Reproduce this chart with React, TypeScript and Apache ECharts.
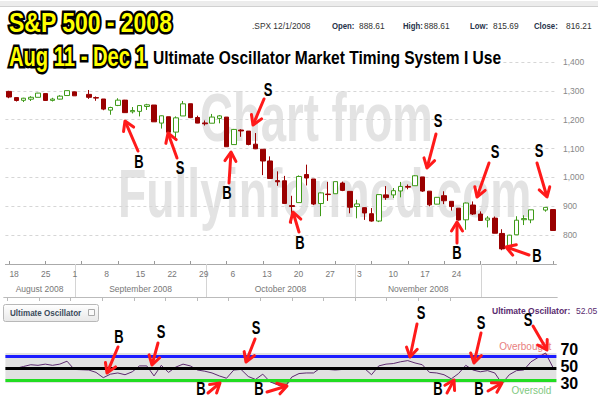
import React, { useEffect, useRef } from "react";
import * as echarts from "echarts";

// ---------------- data ----------------
const dates = [
  "2008-08-18", "2008-08-19", "2008-08-20", "2008-08-21", "2008-08-22",
  "2008-08-25", "2008-08-26", "2008-08-27", "2008-08-28", "2008-08-29",
  "2008-09-01", "2008-09-02", "2008-09-03", "2008-09-04", "2008-09-05",
  "2008-09-08", "2008-09-09", "2008-09-10", "2008-09-11", "2008-09-12",
  "2008-09-15", "2008-09-16", "2008-09-17", "2008-09-18", "2008-09-19",
  "2008-09-22", "2008-09-23", "2008-09-24", "2008-09-25", "2008-09-26",
  "2008-09-29", "2008-09-30", "2008-10-01", "2008-10-02", "2008-10-03",
  "2008-10-06", "2008-10-07", "2008-10-08", "2008-10-09", "2008-10-10",
  "2008-10-13", "2008-10-14", "2008-10-15", "2008-10-16", "2008-10-17",
  "2008-10-20", "2008-10-21", "2008-10-22", "2008-10-23", "2008-10-24",
  "2008-10-27", "2008-10-28", "2008-10-29", "2008-10-30", "2008-10-31",
  "2008-11-03", "2008-11-04", "2008-11-05", "2008-11-06", "2008-11-07",
  "2008-11-10", "2008-11-11", "2008-11-12", "2008-11-13", "2008-11-14",
  "2008-11-17", "2008-11-18", "2008-11-19", "2008-11-20", "2008-11-21",
  "2008-11-24", "2008-11-25", "2008-11-26", "2008-11-27", "2008-11-28",
  "2008-12-01",
];

const opens = [
  1298.1, 1276.7, 1267.3, 1271.1, 1277.6, 1290.5, 1267.0, 1271.3, 1283.8, 1296.5,
  null, 1287.8, 1276.6, 1271.8, 1233.2, 1249.5, 1267.9, 1227.5, 1229.0, 1245.9,
  1250.9, 1188.3, 1210.3, 1157.1, 1213.0, 1255.4, 1207.6, 1188.8, 1187.9, 1204.5,
  1209.1, 1113.8, 1164.2, 1160.6, 1115.2, 1097.6, 1057.0, 988.9, 988.4, 902.3,
  912.75, 1010.0, 994.6, 909.5, 942.3, 943.5, 980.4, 951.7, 899.1, 895.2,
  874.3, 848.9, 939.5, 939.4, 953.1, 968.7, 971.3, 1001.8, 952.4, 907.4,
  936.75, 917.2, 893.4, 853.1, 904.4, 873.2, 852.3, 859.0, 805.9, 755.8,
  801.2, 853.4, 852.9, null, 886.9, 888.61,
];
const highs = [
  1300.2, 1276.7, 1276.0, 1281.6, 1293.1, 1290.5, 1275.9, 1285.0, 1300.7, 1297.6,
  null, 1303.0, 1280.6, 1271.8, 1244.9, 1274.4, 1268.7, 1243.9, 1250.0, 1255.1,
  1250.9, 1214.8, 1210.3, 1211.6, 1265.0, 1255.4, 1214.0, 1197.4, 1220.0, 1215.8,
  1209.1, 1168.0, 1167.0, 1160.6, 1153.8, 1097.6, 1072.9, 1021.1, 1005.3, 936.4,
  1006.9, 1044.3, 994.6, 947.7, 984.6, 985.4, 985.4, 951.7, 922.8, 896.3,
  893.8, 940.5, 970.0, 963.2, 984.4, 975.6, 1007.5, 1001.8, 952.4, 931.5,
  952.0, 917.2, 893.4, 913.0, 916.9, 882.3, 865.9, 864.6, 820.5, 801.2,
  865.6, 868.9, 887.7, null, 896.25, 888.61,
];
const lows = [
  1274.5, 1263.1, 1261.2, 1264.8, 1277.6, 1264.9, 1263.2, 1270.0, 1283.8, 1282.7,
  null, 1272.2, 1265.6, 1232.8, 1217.2, 1247.1, 1224.5, 1221.6, 1211.5, 1233.8,
  1192.7, 1169.3, 1155.9, 1133.5, 1213.0, 1205.6, 1187.8, 1179.8, 1187.9, 1187.5,
  1106.4, 1113.8, 1140.8, 1111.4, 1098.1, 1008.0, 996.2, 971.0, 909.2, 839.8,
  912.75, 972.1, 904.0, 865.8, 918.7, 943.5, 952.5, 875.8, 858.4, 852.9,
  846.75, 845.3, 922.3, 928.5, 931.0, 958.8, 971.3, 949.9, 899.7, 906.9,
  907.5, 884.9, 850.5, 818.7, 869.9, 849.0, 826.8, 806.2, 747.8, 741.0,
  801.2, 835.0, 841.4, null, 881.2, 815.69,
];
const closes = [
  1278.6, 1266.7, 1274.5, 1277.7, 1292.2, 1266.8, 1271.5, 1281.7, 1300.7, 1282.8,
  null, 1277.6, 1275.0, 1236.8, 1242.3, 1267.8, 1224.5, 1232.0, 1249.0, 1251.7,
  1192.7, 1213.6, 1156.4, 1206.5, 1255.1, 1207.1, 1188.2, 1185.9, 1209.2, 1213.3,
  1106.4, 1166.4, 1161.1, 1114.3, 1099.2, 1056.9, 996.2, 984.9, 909.9, 899.2,
  1003.35, 998.0, 907.8, 946.4, 940.6, 985.4, 955.05, 896.8, 908.1, 876.8,
  848.9, 940.5, 930.1, 954.1, 968.75, 966.3, 1005.75, 952.8, 904.9, 931.0,
  919.2, 899.0, 852.3, 911.3, 873.3, 850.75, 859.1, 806.6, 752.4, 800.0,
  851.8, 857.4, 887.7, null, 896.24, 816.21,
];

const ultimateOsc = [
  48, 50, 53, 56, 55, 57, 55, 57, 62, 48,
  null, 47, 43, 34, 40, 42, 39, 44, 54, 54,
  37, 55, 43, 52, 57, 54, 47, 45, 42, 37,
  33, 47, 48, 36, 31, 40, 27, 22, 17, 35,
  41, 42, 42, 51, 48, 47, 48, 49, 50, 50,
  39, 54, 57, 58, 61, 63, 59, 56, 43, 42,
  39, 32, 41, 55, 47, 44, 46, 42, 24, 39,
  46, 47, 61, null, 76, 52.05,
];

const weekTickLabels = ["18", "25", "1", "8", "15", "22", "29", "6", "13", "20", "27", "3", "10", "17", "24"];
const weekTickDays = [0, 7, 14, 21, 28, 35, 42, 49, 56, 63, 70, 77, 84, 91, 98]; // days after Aug 18
const monthNames = ["August 2008", "September 2008", "October 2008", "November 2008"];
const monthFirstDays = [15, 44, 77, 105]; // first sessions: Sep 2, Oct 1, Nov 3, Dec 1

const quoteSymbol = ".SPX 12/1/2008";
const quoteLabels = ["Open:", "High:", "Low:", "Close:"];
const quoteValues = ["888.61", "888.61", "815.69", "816.21"];
const oscLevels = [70, 50, 30];
const oscName = "Ultimate Oscillator";
const oscLatest = "52.05";

const titleLines = ["S&P 500 - 2008", "Aug 11 - Dec 1"];
const subtitle = "Ultimate Oscillator Market Timing System I Use";
const watermark = ["Chart from", "Fullyinformed.com"];

// hand-drawn signal annotations (letter, letter centre, arrow tail, arrow tip)
const annotations: { t: string; at: number[]; from: number[]; to: number[] }[] = [
  { t: "B", at: [139, 162], from: [138, 151], to: [125, 121] },
  { t: "S", at: [180, 168], from: [177, 158], to: [168, 133] },
  { t: "B", at: [227, 193], from: [229, 183], to: [231, 152] },
  { t: "S", at: [268, 90], from: [264, 99], to: [253, 125] },
  { t: "B", at: [300, 243], from: [299, 232], to: [293, 212] },
  { t: "S", at: [438, 121], from: [436, 134], to: [427, 168] },
  { t: "S", at: [495, 152], from: [489, 163], to: [477, 197] },
  { t: "S", at: [539, 151], from: [537, 163], to: [547, 197] },
  { t: "B", at: [457, 253], from: [457, 243], to: [457, 222] },
  { t: "B", at: [537, 256], from: [529, 255], to: [506, 247] },
  { t: "B", at: [119, 337], from: [118, 347], to: [107, 373] },
  { t: "S", at: [161, 332], from: [158, 343], to: [152, 365] },
  { t: "S", at: [256, 328], from: [255, 339], to: [246, 362] },
  { t: "B", at: [201, 389], from: [208, 393], to: [220, 383] },
  { t: "B", at: [259, 389], from: [267, 392], to: [287, 386] },
  { t: "S", at: [421, 313], from: [417, 324], to: [410, 357] },
  { t: "S", at: [481, 323], from: [481, 333], to: [474, 363] },
  { t: "S", at: [528, 320], from: [533, 326], to: [547, 350] },
  { t: "B", at: [438, 389], from: [447, 393], to: [454, 380] },
  { t: "B", at: [479, 389], from: [488, 391], to: [502, 383] },
];

// ---------------- styling ----------------
const NARROW = '"Liberation Sans Narrow", "Liberation Sans", Arial, sans-serif';
const SANS = '"Liberation Sans", Arial, sans-serif';
const RED = "#ff1a1a";

function arrow(from: number[], to: number[]) {
  const dx = to[0] - from[0];
  const dy = to[1] - from[1];
  const len = Math.hypot(dx, dy) || 1;
  const ux = dx / len, uy = dy / len;
  const nx = -uy, ny = ux;
  const hl = 9, hw = 5.5;
  const bx = to[0] - ux * hl, by = to[1] - uy * hl;
  return [
    {
      type: "line", z: 100, silent: true,
      shape: { x1: from[0], y1: from[1], x2: to[0] - ux, y2: to[1] - uy },
      style: { stroke: RED, lineWidth: 3, lineCap: "round" },
    },
    {
      type: "polyline", z: 100, silent: true,
      shape: { points: [[bx + nx * hw, by + ny * hw], [to[0], to[1]], [bx - nx * hw, by - ny * hw]] },
      style: { stroke: RED, lineWidth: 3, fill: null, lineJoin: "round", lineCap: "round" },
    },
  ];
}

function text(x: number, y: number, s: string, font: string, fill: string, scaleX = 1, z = 100, extra: any = {}) {
  return {
    type: "text", z, silent: true, x, y, scaleX,
    style: { text: s, x: 0, y: 0, textVerticalAlign: "middle", font, fill, ...extra },
  };
}

function buildOption() {
  const candleData = dates.map((_, i) =>
    opens[i] == null ? ["-", "-", "-", "-"] : [opens[i], closes[i], lows[i], highs[i]]
  );
  const oversold = ultimateOsc.map((v) => (v == null ? null : Math.min(v, 30)));
  const overbought = ultimateOsc.map((v) => (v == null ? null : Math.max(v, 70)));

  const dayMin = -0.75, dayMax = 121.75;
  const monthMids = monthNames.map((_, i) => ((i === 0 ? dayMin : monthFirstDays[i - 1]) + monthFirstDays[i]) / 2);

  const levelShift: Record<number, number> = { 70: -7, 50: -2, 30: 3 };

  const titleStyle = { stroke: "#000", lineWidth: 5, strokeFirst: true };

  const graphics: any[] = [
    // top dotted band
    { type: "rect", z: 5, silent: true, shape: { x: 0, y: 1, width: 598, height: 5 }, style: { fill: "#ececec" } },
    { type: "line", z: 5, silent: true, shape: { x1: 0, y1: 6.5, x2: 598, y2: 6.5 }, style: { stroke: "#d0d0d0", lineWidth: 1 } },
    // watermark
    text(200, 117, watermark[0], `bold 69px ${SANS}`, "#e3e3e3", 0.66, -1),
    text(118, 193, watermark[1], `bold 69px ${SANS}`, "#e3e3e3", 0.67, -1),
    // white patch behind the title
    { type: "rect", z: 50, silent: true, shape: { x: 0, y: 40, width: 499, height: 30 }, style: { fill: "#fff" } },
    text(9, 22, titleLines[0], `bold 28px ${SANS}`, "#ffff00", 0.82, 100, titleStyle),
    text(9, 56, titleLines[1], `bold 28px ${SANS}`, "#ffff00", 0.72, 100, titleStyle),
    text(153, 58.5, subtitle, `bold 18px ${SANS}`, "#000", 0.865),
    // quote line
    text(252, 26, quoteSymbol, `9.5px ${SANS}`, "#333", 0.88),
    // oscillator button
    {
      type: "rect", z: 100, silent: true, shape: { x: 3.5, y: 304.5, width: 95, height: 17, r: 2 },
      style: {
        stroke: "#b8b8b8", lineWidth: 1,
        fill: new echarts.graphic.LinearGradient(0, 0, 0, 1, [{ offset: 0, color: "#ffffff" }, { offset: 1, color: "#e8e8e8" }]),
      },
    },
    text(10, 313, oscName, `bold 9.5px ${SANS}`, "#3b4b5b", 0.85, 101),
    {
      type: "rect", z: 101, silent: true, shape: { x: 88.5, y: 309.5, width: 6, height: 6 },
      style: { stroke: "#aaa", fill: "#fafafa", lineWidth: 1 },
    },
    // latest oscillator value
    text(492, 311, oscName + ":", `bold 9px ${SANS}`, "#5a2c70", 0.95),
    text(576, 311, oscLatest, `9.5px ${SANS}`, "#5a2c70", 0.9),
  ];

  const labelX = [332, 403, 470, 534];
  const valueX = [359, 424, 493, 566];
  quoteLabels.forEach((l, i) => {
    graphics.push(text(labelX[i], 26, l, `bold 9.5px ${SANS}`, "#26324a", 0.82));
    graphics.push(text(valueX[i], 26, quoteValues[i], `9.5px ${SANS}`, "#333", 0.88));
  });

  annotations.forEach((a) => {
    graphics.push(...arrow(a.from, a.to));
    graphics.push({
      type: "text", z: 101, silent: true, x: a.at[0], y: a.at[1], scaleX: 0.72,
      style: {
        text: a.t, x: 0, y: 0, textAlign: "center", textVerticalAlign: "middle",
        font: `bold 18px ${SANS}`, fill: "#000",
      },
    });
  });

  const levelLines = [
    { yAxis: 70, lineStyle: { color: "#1c1cff", width: 3, type: "solid" }, label: { show: true, formatter: "Overbought", position: "insideEndTop", color: "#e88080", fontSize: 10, fontFamily: SANS } },
    { yAxis: 50, lineStyle: { color: "#000", width: 3, type: "solid" }, label: { show: false } },
    { yAxis: 30, lineStyle: { color: "#22dd22", width: 3, type: "solid" }, label: { show: true, formatter: "Oversold", position: "insideEndBottom", color: "#80c880", fontSize: 10, fontFamily: SANS } },
    ...oscLevels.map((lv) => ({
      yAxis: lv,
      lineStyle: { color: "rgba(0,0,0,0)", width: 0 },
      label: {
        show: true, position: "end", distance: 4, offset: [0, levelShift[lv]],
        formatter: String(lv),
        fontSize: 16, fontWeight: "bold", fontFamily: SANS, color: "#000", lineHeight: 13,
      },
    })),
  ];

  return {
    animation: false,
    backgroundColor: "#fff",
    grid: [
      { left: 5.4, top: 62, width: 551, height: 202 },
      { left: 4, top: 264, width: 553, height: 33 },
      { left: 5.4, top: 350.6, width: 551, height: 41.2 },
    ],
    xAxis: [
      {
        type: "category", gridIndex: 0, data: dates, boundaryGap: true,
        axisLine: { show: true, lineStyle: { color: "#aaa" } },
        axisTick: { show: true, inside: true, length: 3, alignWithLabel: true, interval: (i: number) => i % 5 === 0, lineStyle: { color: "#999" } },
        axisLabel: { show: false },
        splitLine: { show: false },
      },
      {
        type: "category", gridIndex: 2, data: dates, boundaryGap: true, show: false,
      },
      {
        type: "value", gridIndex: 1, position: "top", min: dayMin, max: dayMax,
        axisLine: { show: true, lineStyle: { color: "#bbb" } },
        axisTick: { show: true, inside: true, length: 4, customValues: weekTickDays, lineStyle: { color: "#bbb" } },
        axisLabel: {
          show: true, inside: true, customValues: weekTickDays, margin: 5, align: "left", padding: [0, 0, 0, 2],
          formatter: (v: number) => weekTickLabels[weekTickDays.indexOf(v)] ?? "",
          fontSize: 8.5, color: "#777", fontFamily: NARROW,
        },
        splitLine: { show: false },
      },
      {
        type: "value", gridIndex: 1, position: "bottom", min: dayMin, max: dayMax,
        axisLine: { show: true, lineStyle: { color: "#bbb" } },
        axisTick: { show: true, inside: true, length: 33, customValues: monthFirstDays, lineStyle: { color: "#d4d4d4" } },
        axisLabel: {
          show: true, inside: true, customValues: monthMids, margin: 4,
          formatter: (v: number) => monthNames[monthMids.indexOf(v)] ?? "",
          fontSize: 8.5, color: "#777", fontFamily: NARROW,
        },
        splitLine: { show: false },
      },
    ],
    yAxis: [
      {
        type: "value", gridIndex: 0, position: "right", min: 700, max: 1400, interval: 100,
        axisLine: { show: false }, axisTick: { show: false },
        axisLabel: {
          margin: 6.5, fontSize: 8.5, color: "#888", fontFamily: NARROW,
          formatter: (v: number) => (v === 700 ? "" : v.toLocaleString("en-US")),
        },
        splitLine: { show: true, lineStyle: { color: "#d6d6d6", type: [3, 3] } },
      },
      { type: "value", gridIndex: 1, show: false, min: 0, max: 1 },
      {
        type: "value", gridIndex: 2, position: "right", min: 10, max: 80,
        axisLine: { show: false }, axisTick: { show: false }, splitLine: { show: false },
        axisLabel: { show: false },
      },
    ],
    series: [
      {
        type: "candlestick", xAxisIndex: 0, yAxisIndex: 0, data: candleData, barWidth: 5, z: 2,
        itemStyle: { color: "#ffffff", color0: "#9a0000", borderColor: "#3e9a18", borderColor0: "#9a0000", borderWidth: 1 },
      },
      {
        type: "line", xAxisIndex: 1, yAxisIndex: 2, data: dates.map(() => null), z: 1, silent: true,
        symbol: "none", lineStyle: { width: 0 },
        markArea: { silent: true, itemStyle: { color: "#e1e1e1" }, data: [[{ yAxis: 25 }, { yAxis: 76 }]] },
        markLine: { silent: true, symbol: ["none", "none"], data: levelLines },
      },
      {
        type: "line", xAxisIndex: 1, yAxisIndex: 2, data: oversold, z: 2, silent: true, connectNulls: true,
        symbol: "none", lineStyle: { width: 0 }, areaStyle: { origin: 30, color: "#78c060", opacity: 1 },
      },
      {
        type: "line", xAxisIndex: 1, yAxisIndex: 2, data: overbought, z: 2, silent: true, connectNulls: true,
        symbol: "none", lineStyle: { width: 0 }, areaStyle: { origin: 70, color: "#f2a0a0", opacity: 1 },
      },
      {
        type: "line", xAxisIndex: 1, yAxisIndex: 2, data: ultimateOsc, z: 3, silent: true, connectNulls: true,
        symbol: "none", lineStyle: { color: "#5c2a6e", width: 1 },
      },
    ],
    graphic: graphics,
  };
}

export default function App() {
  const ref = useRef<HTMLDivElement>(null);
  useEffect(() => {
    if (!ref.current) return;
    const chart = echarts.init(ref.current, null, { renderer: "svg" });
    chart.setOption(buildOption() as any);
    return () => chart.dispose();
  }, []);
  return (
    <div
      ref={ref}
      style={{ position: "fixed", left: 0, top: 0, width: 603, height: 399, background: "#fff" }}
    />
  );
}
